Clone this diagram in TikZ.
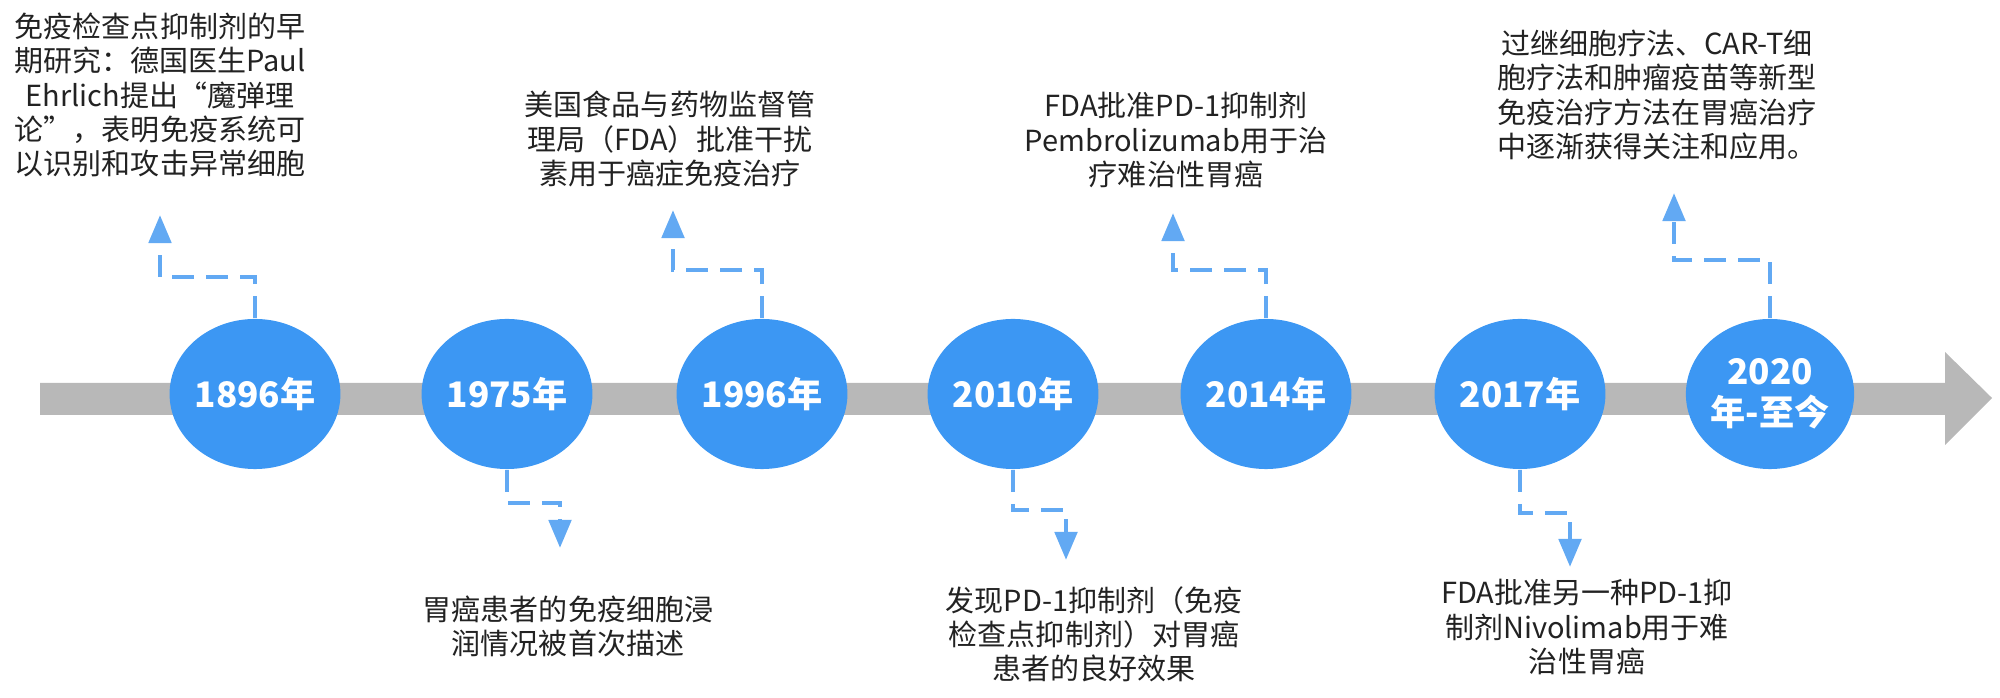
\documentclass[tikz,border=0pt]{standalone}
\usepackage{fontspec}
\setmainfont{Noto Sans CJK SC}
\usetikzlibrary{arrows.meta,shapes.geometric,calc}
\definecolor{barGray}{HTML}{B8B8B8}
\definecolor{ballBlue}{HTML}{3C97F3}
\definecolor{linkBlue}{HTML}{62A9F3}
\definecolor{txt}{HTML}{222222}
\begin{document}
\begin{tikzpicture}[x=0.01cm,y=-0.01cm,
 year/.style={ellipse, fill=ballBlue, minimum width=1.66cm, minimum height=1.5cm, inner sep=0pt, text=white, font=\bfseries\fontsize{10}{11.5}\selectfont, align=center},
 note/.style={text=txt, font=\fontsize{8.25}{9.7}\selectfont, align=center, inner sep=0pt},
 link/.style={draw=linkBlue, line width=1.4pt, dash pattern=on 6.3pt off 3.4pt, -{Triangle[width=0.22cm,length=0.28cm]}}
]
\useasboundingbox (0,0) rectangle (2000,698);
% timeline bar
\fill[barGray] (40,383) -- (1945,383) -- (1945,352) -- (1992,398) -- (1945,445) -- (1945,415) -- (40,415) -- cycle;
% year ellipses
\node[year] (e1) at (255,394) {1896年};
\node[year] (e2) at (507,394) {1975年};
\node[year] (e3) at (762,394) {1996年};
\node[year] (e4) at (1013,394) {2010年};
\node[year] (e5) at (1266,394) {2014年};
\node[year] (e6) at (1520,394) {2017年};
\node[year] (e7) at (1770,394) {2020\\年-至今};
% notes
\node[note] (t1) at (160,95) {免疫检查点抑制剂的早\\期研究：德国医生Paul\\Ehrlich提出“魔弹理\\论”，表明免疫系统可\\以识别和攻击异常细胞};
\node[note] (t3) at (670,139) {美国食品与药物监督管\\理局（FDA）批准干扰\\素用于癌症免疫治疗};
\node[note] (t5) at (1176,140) {FDA批准PD-1抑制剂\\Pembrolizumab用于治\\疗难治性胃癌};
\node[note] (t7) at (1657,95) {过继细胞疗法、CAR-T细\\胞疗法和肿瘤疫苗等新型\\免疫治疗方法在胃癌治疗\\中逐渐获得关注和应用。};
\node[note] (t2) at (568,626) {胃癌患者的免疫细胞浸\\润情况被首次描述};
\node[note] (t4) at (1094,634) {发现PD-1抑制剂（免疫\\检查点抑制剂）对胃癌\\患者的良好效果};
\node[note] (t6) at (1587,627) {FDA批准另一种PD-1抑\\制剂Nivolimab用于难\\治性胃癌};
% bend and tip coordinates
\coordinate (b1) at (160,277); \coordinate (a1) at (160,215);
\coordinate (b3) at (673,270); \coordinate (a3) at (673,210);
\coordinate (b5) at (1173,270); \coordinate (a5) at (1173,213);
\coordinate (b7) at (1674,260); \coordinate (a7) at (1674,193);
\coordinate (b2) at (560,503); \coordinate (a2) at (560,548);
\coordinate (b4) at (1066,510); \coordinate (a4) at (1066,560);
\coordinate (b6) at (1570,513); \coordinate (a6) at (1570,567);
% connectors
\draw[link] (e1.north) |- (b1) -- (a1);
\draw[link] (e3.north) |- (b3) -- (a3);
\draw[link] (e5.north) |- (b5) -- (a5);
\draw[link] (e7.north) |- (b7) -- (a7);
\draw[link] (e2.south) |- (b2) -- (a2);
\draw[link] (e4.south) |- (b4) -- (a4);
\draw[link] (e6.south) |- (b6) -- (a6);
\end{tikzpicture}
\end{document}
